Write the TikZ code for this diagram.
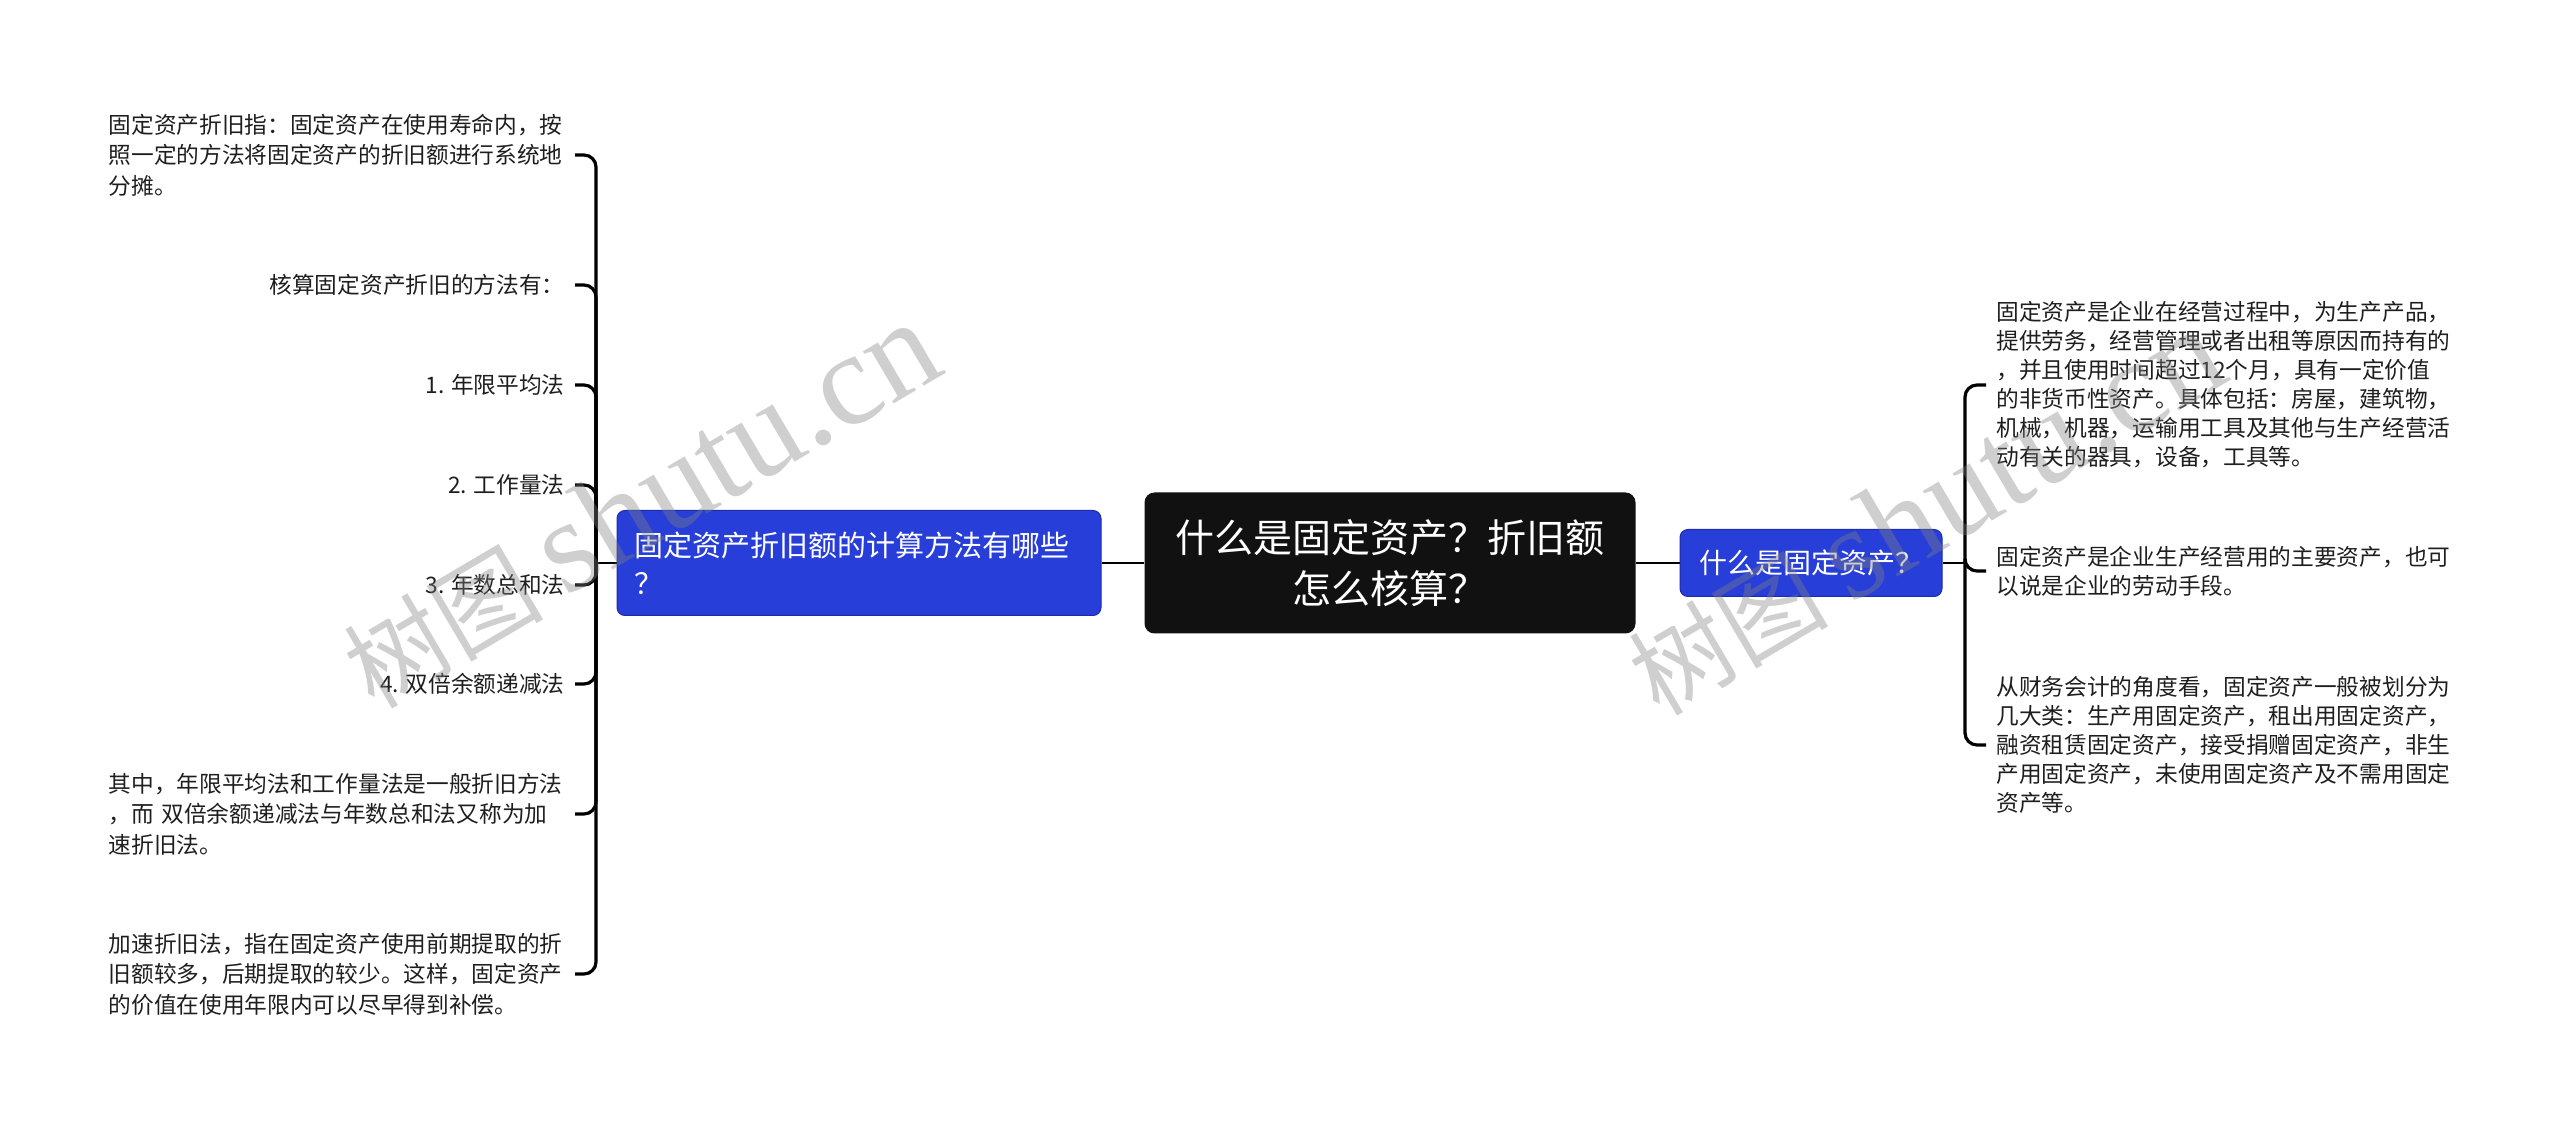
\documentclass[tikz,border=0pt]{standalone}
\usepackage{fontspec}
\setmainfont{Noto Sans CJK SC}
\newfontfamily\wmlatin{Liberation Serif}
\definecolor{nodeblue}{RGB}{40,62,216}
\definecolor{blueedge}{RGB}{28,44,170}
\definecolor{txt}{RGB}{30,30,30}
\definecolor{rootfill}{RGB}{17,17,17}
\begin{document}
\begin{tikzpicture}[x=0.5pt,y=-0.5pt,
  root/.style={fill=rootfill, rounded corners=5pt, text=white, minimum width=245.5pt,
    minimum height=70.5pt, align=center, inner sep=0pt,
    font=\fontsize{19.5pt}{25.5pt}\selectfont},
  topic/.style={fill=nodeblue, draw=blueedge, line width=0.5pt, rounded corners=4pt, text=white},
  leaf/.style={text=txt, inner sep=0pt, font=\fontsize{11.35pt}{15.25pt}\selectfont},
  rleaf/.style={leaf, anchor=west, text width=229pt, align=left,
    font=\fontsize{11.35pt}{14.5pt}\selectfont},
  lmulti/.style={leaf, anchor=east, text width=228pt, align=left},
  lsingle/.style={leaf, anchor=east},
  conn/.style={line width=1pt, draw=black},
  brk/.style={line width=1.6pt, draw=black, rounded corners=6pt},
  wm/.style={rotate=30.5, text=gray, opacity=0.38, inner sep=0pt}
]
\useasboundingbox (0,0) rectangle (2560,1127);

% central and main topics
\node[root] (c) at (1390,563) {什么是固定资产？折旧额\\怎么核算？};
\node[topic, minimum width=242pt, minimum height=52.5pt, text width=225pt, inner xsep=8.5pt,
  align=left, font=\fontsize{14.5pt}{18.8pt}\selectfont] (lb) at (859,563)
  {固定资产折旧额的计算方法有哪些\\？};
\node[topic, minimum width=131pt, minimum height=33.5pt,
  font=\fontsize{14pt}{18pt}\selectfont] (rb) at (1811,563) {什么是固定资产？};

% left leaves
\node[lmulti] (l1) at (565,155) {固定资产折旧指：固定资产在使用寿命内，按\\照一定的方法将固定资产的折旧额进行系统地\\分摊。};
\node[lsingle] (l2) at (565,285) {核算固定资产折旧的方法有：};
\node[lsingle] (l3) at (565,385) {1. 年限平均法};
\node[lsingle] (l4) at (565,485) {2. 工作量法};
\node[lsingle] (l5) at (565,585) {3. 年数总和法};
\node[lsingle] (l6) at (565,684) {4. 双倍余额递减法};
\node[lmulti] (l7) at (565,814) {其中，年限平均法和工作量法是一般折旧方法\\，而 双倍余额递减法与年数总和法又称为加\\速折旧法。};
\node[lmulti] (l8) at (565,974) {加速折旧法，指在固定资产使用前期提取的折\\旧额较多，后期提取的较少。这样，固定资产\\的价值在使用年限内可以尽早得到补偿。};

% right leaves
\node[rleaf] (r1) at (1996,385) {固定资产是企业在经营过程中，为生产产品，\\提供劳务，经营管理或者出租等原因而持有的\\，并且使用时间超过12个月，具有一定价值\\的非货币性资产。具体包括：房屋，建筑物，\\机械，机器，运输用工具及其他与生产经营活\\动有关的器具，设备，工具等。};
\node[rleaf] (r2) at (1996,571) {固定资产是企业生产经营用的主要资产，也可\\以说是企业的劳动手段。};
\node[rleaf] (r3) at (1996,745) {从财务会计的角度看，固定资产一般被划分为\\几大类：生产用固定资产，租出用固定资产，\\融资租赁固定资产，接受捐赠固定资产，非生\\产用固定资产，未使用固定资产及不需用固定\\资产等。};

% connectors
\draw[conn] (c.west) -- (lb.east);
\draw[conn] (c.east) -- (rb.west);
\coordinate (ls) at (596,563);
\coordinate (rs) at (1965,563);
\draw[conn] (lb.west) -- (ls);
\draw[conn] (rb.east) -- (rs);
\foreach \n in {l1,l2,l3,l4,l5,l6,l7,l8}
  \draw[brk] (ls) |- ([xshift=5pt]\n.east);
\foreach \n in {r1,r2,r3}
  \draw[brk] (rs) |- ([xshift=-5pt]\n.west);

% watermarks
\node[wm] (wm1) at (640,505) {\fontsize{50pt}{50pt}\selectfont 树图 {\wmlatin\fontsize{66pt}{66pt}\selectfont shutu.cn}};
\node[wm] (wm2) at (1925,512) {\fontsize{50pt}{50pt}\selectfont 树图 {\wmlatin\fontsize{66pt}{66pt}\selectfont shutu.cn}};
\end{tikzpicture}
\end{document}
